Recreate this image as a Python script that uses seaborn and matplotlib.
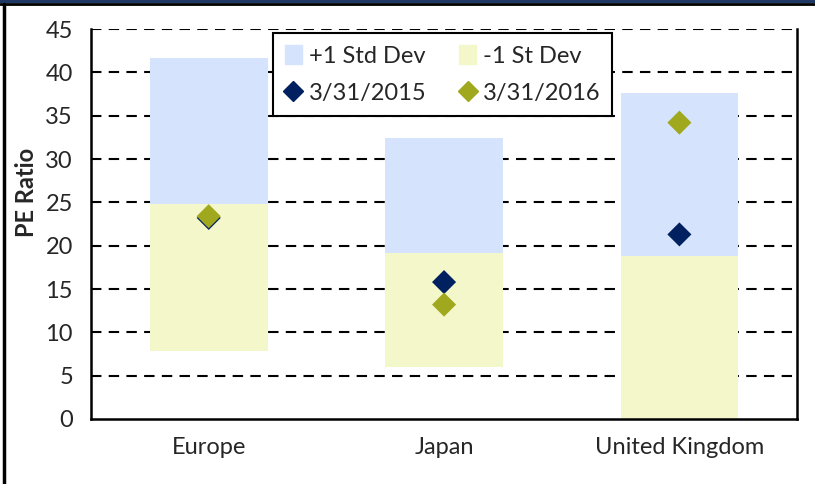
import matplotlib
matplotlib.use('Agg')
import matplotlib.pyplot as plt
import matplotlib.patches as mpatches
from matplotlib.lines import Line2D
import seaborn as sns
import pandas as pd

# ── Data ──────────────────────────────────────
regions   = ['Europe', 'Japan', 'United Kingdom']
low_band  = [7.9, 6.0, 0.0]      # mean - 1 std
mean_pe   = [24.8, 19.2, 18.8]   # mean
high_band = [41.7, 32.4, 37.6]   # mean + 1 std
pe_2015   = [23.2, 15.8, 21.3]
pe_2016   = [23.4, 13.2, 34.2]

BLUE   = '#D6E3FC'
YELLOW = '#F3F7CA'
NAVY   = '#002060'
OLIVE  = '#A0A91E'

sns.set_theme(style='white')
plt.rcParams['font.family'] = ['Lato', 'DejaVu Sans']

fig = plt.figure(figsize=(8.15, 4.84), dpi=100)
ax = fig.add_axes([0.1117, 0.1343, 0.8663, 0.8057])

pos = list(range(len(regions)))
lower = [m - l for m, l in zip(mean_pe, low_band)]
upper = [h - m for h, m in zip(high_band, mean_pe)]

ax.bar(pos, lower, bottom=low_band, width=0.5, color=YELLOW,
       linewidth=0, zorder=2)
ax.bar(pos, upper, bottom=mean_pe, width=0.5, color=BLUE,
       linewidth=0, zorder=2)

pts = pd.DataFrame({
    'x': pos * 2,
    'pe': pe_2015 + pe_2016,
    'date': ['3/31/2015'] * 3 + ['3/31/2016'] * 3,
})
sns.scatterplot(data=pts, x='x', y='pe', hue='date', palette=[NAVY, OLIVE],
                marker='D', s=150, edgecolor='none', legend=False,
                ax=ax, zorder=3)

# ── Axes ──────────────────────────────────────
ax.set_xlim(-0.5, 2.5)
ax.set_ylim(0, 45)
ax.set_yticks(range(0, 50, 5))
ax.set_xticks([-0.5, 0.5, 1.5, 2.5])
ax.set_xticklabels([])
ax.set_xticks(pos, minor=True)
ax.set_xticklabels(regions, minor=True, fontsize=17)
ax.tick_params(axis='x', which='minor', length=0, pad=13)
ax.tick_params(axis='x', which='major', direction='out', length=8,
               width=1.5, color='black')
ax.tick_params(axis='y', direction='out', length=8, width=1.5,
               color='black', labelsize=17, pad=5)
ax.set_xlabel('')
ax.set_ylabel('PE Ratio', fontsize=17, fontweight='bold')
ax.yaxis.set_label_coords(-0.075, 0.58)

for yv in range(5, 50, 5):
    ax.axhline(yv, color='black', linestyle=(0, (5, 3.5)), linewidth=1.5,
               zorder=1)

ax.spines['top'].set_visible(False)
for side in ['left', 'right', 'bottom']:
    ax.spines[side].set_color('black')
    ax.spines[side].set_linewidth(1.8)
    ax.spines[side].set_zorder(4)

# ── Legend ────────────────────────────────────
handles = [
    mpatches.Patch(color=BLUE, label='+1 Std Dev'),
    Line2D([], [], marker='D', color=NAVY, linestyle='none',
           markersize=10, label='3/31/2015'),
    mpatches.Patch(color=YELLOW, label='-1 St Dev'),
    Line2D([], [], marker='D', color=OLIVE, linestyle='none',
           markersize=10, label='3/31/2016'),
]
leg = ax.legend(handles=handles, ncol=2, loc='upper left',
                bbox_to_anchor=(0.258, 0.99), borderaxespad=0,
                fontsize=17, fancybox=False, framealpha=1,
                edgecolor='black', handlelength=0.7, handleheight=0.9,
                handletextpad=0.3, columnspacing=1.4, labelspacing=0.65,
                borderpad=0.5)
leg.get_frame().set_linewidth(1.5)
leg.set_zorder(5)

# ── Outer frame ───────────────────────────────
fig.add_artist(Line2D([0, 1], [0.997, 0.997], color='#1F3864', linewidth=3,
                      transform=fig.transFigure))
fig.add_artist(Line2D([0, 1], [0.991, 0.991], color='black', linewidth=2,
                      transform=fig.transFigure))
fig.add_artist(Line2D([0.005, 0.005], [0, 0.991], color='black', linewidth=2.5,
                      transform=fig.transFigure))

plt.savefig('out.png', dpi=100)
plt.close()
